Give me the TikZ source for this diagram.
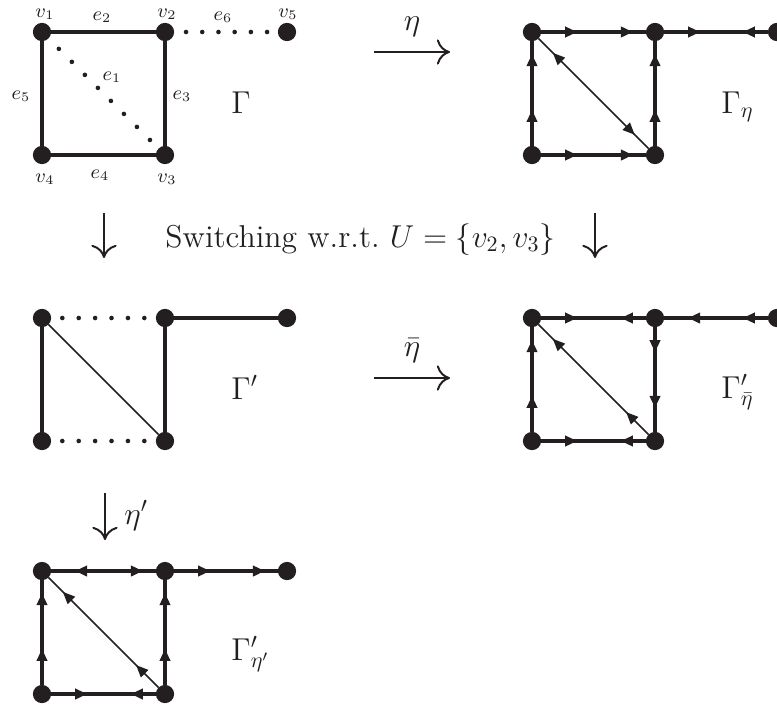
\documentclass[tikz,border=0pt]{standalone}
\usetikzlibrary{arrows.meta,decorations.markings}
\definecolor{ink}{RGB}{35,31,32}
\tikzset{
  vtx/.style={circle,fill=ink,draw=none,minimum size=8.3pt,inner sep=0pt,outer sep=0pt},
  thk/.style={draw=ink,line width=1.4pt},
  thn/.style={draw=ink,line width=0.7pt},
  dotln/.style 2 args={draw=ink,line width=2.1pt,line cap=round,dash pattern=on 0pt off #1,dash phase=#2},
  Tf/.tip={Triangle[length=5.5pt,width=4.7pt]},
  af/.style={postaction={decorate,decoration={markings,mark=at position 16.4pt with {\arrow{Tf}}}}},
  ab/.style={postaction={decorate,decoration={markings,mark=at position 10.9pt with {\arrowreversed{Tf}}}}},
  bf/.style={postaction={decorate,decoration={markings,mark=at position -5.9pt with {\arrow{Tf}}}}},
  bb/.style={postaction={decorate,decoration={markings,mark=at position -11.4pt with {\arrowreversed{Tf}}}}},
  dbA/.style={postaction={decorate,decoration={markings,mark=at position 9.3pt with {\arrowreversed{Tf}}}}},
  dfB/.style={postaction={decorate,decoration={markings,mark=at position -8.85pt with {\arrow{Tf}}}}},
  dbB/.style={postaction={decorate,decoration={markings,mark=at position -14.35pt with {\arrowreversed{Tf}}}}},
  maparrow/.style={draw=ink,line width=0.9pt,-{Computer Modern Rightarrow[length=6pt,width=11.5pt]}},
  lbl/.style={text=ink,inner sep=0pt},
  glbl/.style={text=ink,inner sep=0pt,anchor=base west,font=\Large},
}
\begin{document}
\begin{tikzpicture}[x=0.4553pt,y=-0.4553pt]
\useasboundingbox (0,0) rectangle (777,707);
\clip (0,0) rectangle (777,707);
% ---------- Gamma ----------
\node[vtx] (a1) at (42,32) {};
\node[vtx] (a2) at (165,32) {};
\node[vtx] (a5) at (287,32) {};
\node[vtx] (a4) at (42,155) {};
\node[vtx] (a3) at (165,155) {};
\draw[thk] (a1) -- (a2);
\draw[thk] (a2) -- (a3);
\draw[thk] (a3) -- (a4);
\draw[thk] (a4) -- (a1);
\draw[dotln={8.38pt}{1.68pt}] (a1) -- (a3);
\draw[dotln={7.38pt}{1.95pt}] (a2) -- (a5);
\node[lbl] (lv1) at (45,14) {\small$v_1$};
\node[lbl] (le2) at (102,17) {\small$e_2$};
\node[lbl] (lv2) at (167,14) {\small$v_2$};
\node[lbl] (le6) at (223,17) {\small$e_6$};
\node[lbl] (lv5) at (288,14) {\small$v_5$};
\node[lbl] (le5) at (21,96) {\small$e_5$};
\node[lbl] (le1) at (112,77) {\small$e_1$};
\node[lbl] (le3) at (182,96) {\small$e_3$};
\node[lbl] (lv4) at (45,179) {\small$v_4$};
\node[lbl] (le4) at (100,175) {\small$e_4$};
\node[lbl] (lv3) at (167,179) {\small$v_3$};
\node[glbl] (ga) at (231,113) {$\Gamma$};
% ---------- Gamma_eta ----------
\node[vtx] (b1) at (532,32) {};
\node[vtx] (b2) at (655,32) {};
\node[vtx] (b5) at (777,32) {};
\node[vtx] (b4) at (532,155) {};
\node[vtx] (b3) at (655,155) {};
\draw[thk,af,bf] (b1) -- (b2);
\draw[thk,af,bb] (b2) -- (b5);
\draw[thk,af,bf] (b4) -- (b1);
\draw[thk,af,bf] (b3) -- (b2);
\draw[thk,af,bf] (b4) -- (b3);
\draw[thn,dbA,dfB] (b1) -- (b3);
\node[glbl] (gb) at (721,113) {$\Gamma_\eta$};
% ---------- arrow eta ----------
\coordinate (m1s) at (374,52);
\coordinate (m1e) at (450,52);
\draw[maparrow] (m1s) -- (m1e);
\node[lbl,anchor=base,font=\Large] (m1l) at (412,30) {$\eta$};
% ---------- switching row ----------
\coordinate (s1a) at (104,213);
\coordinate (s1b) at (104,258);
\draw[maparrow] (s1a) -- (s1b);
\coordinate (s2a) at (595,213);
\coordinate (s2b) at (595,258);
\draw[maparrow] (s2a) -- (s2b);
\node[lbl,anchor=base west,font=\Large] (sw) at (165,247) {Switching w.r.t.\ $U=\{v_2,v_3\}$};
% ---------- Gamma' ----------
\node[vtx] (c1) at (42,318) {};
\node[vtx] (c2) at (165,318) {};
\node[vtx] (c5) at (287,318) {};
\node[vtx] (c4) at (42,441) {};
\node[vtx] (c3) at (165,441) {};
\draw[dotln={7.47pt}{2.37pt}] (c1) -- (c2);
\draw[dotln={7.47pt}{2.37pt}] (c4) -- (c3);
\draw[thk] (c2) -- (c5);
\draw[thk] (c1) -- (c4);
\draw[thk] (c2) -- (c3);
\draw[thn] (c1) -- (c3);
\node[glbl] (gc) at (231,399) {$\Gamma'$};
% ---------- arrow eta bar ----------
\coordinate (m2s) at (374,378);
\coordinate (m2e) at (450,378);
\draw[maparrow] (m2s) -- (m2e);
\node[lbl,anchor=base,font=\Large] (m2l) at (412,356) {$\bar\eta$};
% ---------- Gamma'_{bar eta} ----------
\node[vtx] (d1) at (532,318) {};
\node[vtx] (d2) at (655,318) {};
\node[vtx] (d5) at (777,318) {};
\node[vtx] (d4) at (532,441) {};
\node[vtx] (d3) at (655,441) {};
\draw[thk,af,bb] (d1) -- (d2);
\draw[thk,ab,bb] (d2) -- (d5);
\draw[thk,af,bf] (d4) -- (d1);
\draw[thk,ab,bb] (d3) -- (d2);
\draw[thk,af,bb] (d4) -- (d3);
\draw[thn,dbA,dbB] (d1) -- (d3);
\node[glbl] (gd) at (721,398) {$\Gamma'_{\bar\eta}$};
% ---------- arrow eta' ----------
\coordinate (m3s) at (105,493);
\coordinate (m3e) at (105,540);
\draw[maparrow] (m3s) -- (m3e);
\node[lbl,anchor=base west,font=\Large] (m3l) at (124,524) {$\eta'$};
% ---------- Gamma'_{eta'} ----------
\node[vtx] (e1) at (42,571) {};
\node[vtx] (e2) at (165,571) {};
\node[vtx] (e5) at (287,571) {};
\node[vtx] (e4) at (42,694) {};
\node[vtx] (e3) at (165,694) {};
\draw[thk,ab,bf] (e1) -- (e2);
\draw[thk,af,bf] (e2) -- (e5);
\draw[thk,af,bf] (e4) -- (e1);
\draw[thk,af,bf] (e3) -- (e2);
\draw[thk,af,bb] (e4) -- (e3);
\draw[thn,dbA,dbB] (e1) -- (e3);
\node[glbl] (ge) at (231,660) {$\Gamma'_{\eta'}$};
\end{tikzpicture}
\end{document}
